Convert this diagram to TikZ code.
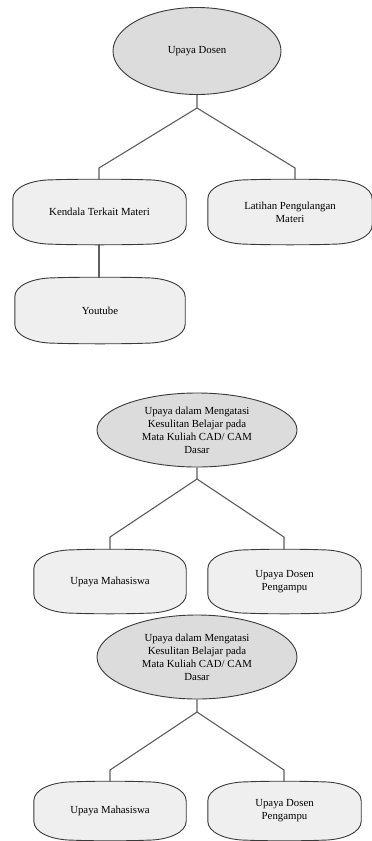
\documentclass[tikz,border=0pt]{standalone}
\usepackage{fontspec}
\setmainfont{Liberation Serif}
\usetikzlibrary{shapes.geometric,backgrounds}
\definecolor{ellfill}{HTML}{DCDCDC}
\definecolor{boxfill}{HTML}{EFEFEF}
\definecolor{outl}{HTML}{3A3A3A}
\definecolor{connc}{HTML}{5E5E5E}
\tikzset{
  ell/.style={ellipse, draw=outl, fill=ellfill, line width=0.9pt, inner sep=0pt, align=center, font=\fontsize{10.8}{13}\selectfont},
  boxn/.style={rectangle, inner sep=0pt, align=center, font=\fontsize{10.8}{13}\selectfont},
  boxout/.style={draw=outl, fill=boxfill, line width=0.9pt},
  conn/.style={draw=connc, line width=1.1pt},
}
\newcommand{\softbox}[1]{%
 \path[boxout] ([yshift=-19pt]#1.north west) -- ([yshift=19pt]#1.south west)
   .. controls ([yshift=8pt]#1.south west) and ([xshift=17pt]#1.south west) .. ([xshift=40pt]#1.south west)
   .. controls ([xshift=60pt,yshift=-0.8pt]#1.south west) and ([xshift=-60pt,yshift=-0.8pt]#1.south east) .. ([xshift=-40pt]#1.south east)
   .. controls ([xshift=-17pt]#1.south east) and ([yshift=8pt]#1.south east) .. ([yshift=19pt]#1.south east)
   -- ([yshift=-19pt]#1.north east)
   .. controls ([yshift=-8pt]#1.north east) and ([xshift=-17pt]#1.north east) .. ([xshift=-40pt]#1.north east)
   .. controls ([xshift=-60pt,yshift=0.8pt]#1.north east) and ([xshift=60pt,yshift=0.8pt]#1.north west) .. ([xshift=40pt]#1.north west)
   .. controls ([xshift=17pt]#1.north west) and ([yshift=-8pt]#1.north west) .. ([yshift=-19pt]#1.north west)
   -- cycle;}
\begin{document}
\begin{tikzpicture}[x=1pt,y=-1pt]
\useasboundingbox (0,0) rectangle (372,841);

% Section 1
\node[ell, minimum width=168pt, minimum height=87pt] (e1) at (197,51) {Upaya Dosen};
\node[boxn, minimum width=173pt, minimum height=64pt] (b1) at (99.5,212) {Kendala Terkait Materi};
\node[boxn, minimum width=164pt, minimum height=64pt] (b2) at (290,212) {Latihan Pengulangan\\Materi};
\node[boxn, minimum width=170pt, minimum height=65pt] (b3) at (100,310.5) {Youtube};

% Section 2
\node[ell, minimum width=200pt, minimum height=74pt] (e2) at (197,430) {Upaya dalam Mengatasi\\Kesulitan Belajar pada\\Mata Kuliah CAD/ CAM\\Dasar};
\node[boxn, minimum width=152pt, minimum height=63pt] (b4) at (110,581.5) {Upaya Mahasiswa};
\node[boxn, minimum width=153pt, minimum height=63pt] (b5) at (284.5,581.5) {Upaya Dosen\\Pengampu};

% Section 3
\node[ell, minimum width=200pt, minimum height=84pt] (e3) at (197,657) {Upaya dalam Mengatasi\\Kesulitan Belajar pada\\Mata Kuliah CAD/ CAM\\Dasar};
\node[boxn, minimum width=152pt, minimum height=58pt] (b6) at (110,811) {Upaya Mahasiswa};
\node[boxn, minimum width=153pt, minimum height=58pt] (b7) at (284.5,811) {Upaya Dosen\\Pengampu};

\begin{scope}[on background layer]
\fill[white] (0,0) rectangle (372,841);
\softbox{b1}\softbox{b2}\softbox{b3}\softbox{b4}\softbox{b5}\softbox{b6}\softbox{b7}
\end{scope}

% connectors
\coordinate (j1) at (197,108);
\coordinate (k1) at (99,168);
\coordinate (k2) at (295,168);
\draw[conn] (e1.south) -- (j1) -- (k1) -- (k1 |- b1.north);
\draw[conn] (j1) -- (k2) -- (k2 |- b2.north);
\draw[conn] (b1.south -| k1) -- (k1 |- b3.north);

\coordinate (j2) at (197,479);
\coordinate (k3) at (110,537);
\coordinate (k4) at (284,537);
\draw[conn] (e2.south) -- (j2) -- (k3) -- (k3 |- b4.north);
\draw[conn] (j2) -- (k4) -- (k4 |- b5.north);

\coordinate (j3) at (197,712);
\coordinate (k5) at (110,770);
\coordinate (k6) at (284,770);
\draw[conn] (e3.south) -- (j3) -- (k5) -- (k5 |- b6.north);
\draw[conn] (j3) -- (k6) -- (k6 |- b7.north);
\end{tikzpicture}
\end{document}
